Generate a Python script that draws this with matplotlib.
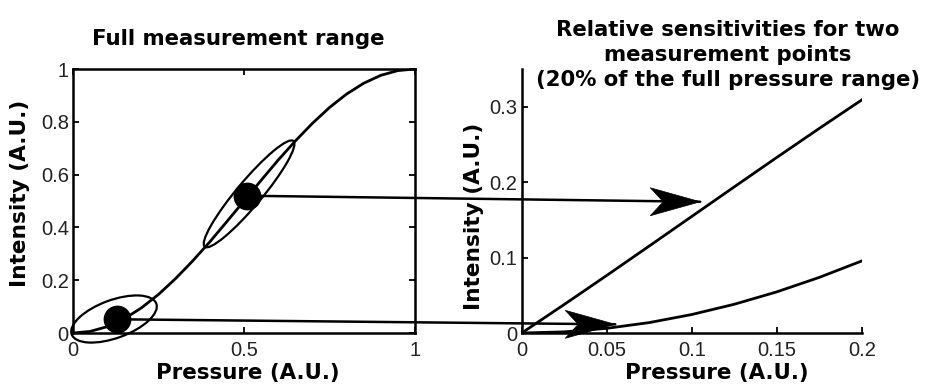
"""Pressure sensor response: full range and two 20% windows."""

import matplotlib

matplotlib.use("Agg")
import matplotlib.pyplot as plt
from matplotlib.patches import ConnectionPatch, Ellipse, Polygon
from matplotlib.transforms import ScaledTranslation

# full response curve
full_pressure = [0.0, 0.05, 0.1, 0.15, 0.2, 0.25, 0.3, 0.35, 0.4, 0.45, 0.5,
                 0.55, 0.6, 0.65, 0.7, 0.75, 0.8, 0.85, 0.9, 0.95, 1.0]
full_intensity = [0.0, 0.006, 0.024, 0.054, 0.095, 0.146, 0.206, 0.273, 0.345, 0.422, 0.5,
                  0.578, 0.655, 0.727, 0.794, 0.854, 0.905, 0.946, 0.976, 0.994, 1.0]

# two operating points on the full curve
point_pressure = [0.128, 0.508]
point_intensity = [0.052, 0.520]

# 20% windows, shifted to start at zero
window_pressure = [0.0, 0.025, 0.05, 0.075, 0.1, 0.125, 0.15, 0.175, 0.2]
window_low = [0.0, 0.0015, 0.0062, 0.0138, 0.0245, 0.0381, 0.0545, 0.0737, 0.0955]
window_mid = [0.0, 0.0378, 0.0763, 0.1153, 0.1545, 0.1937, 0.2327, 0.2712, 0.309]

# where each arrow lands in the zoomed panel
arrow_tip_pressure = [0.055, 0.105]
arrow_tip_intensity = [0.0115, 0.174]

full_xticks = [0, 0.5, 1]
full_yticks = [0, 0.2, 0.4, 0.6, 0.8, 1]
window_xticks = [0, 0.05, 0.1, 0.15, 0.2]
window_yticks = [0, 0.1, 0.2, 0.3]

TICK_FONT = "Liberation Sans"
LABEL_FONT = "DejaVu Sans"

fig = plt.figure(figsize=(9.26, 3.84), dpi=100)
ax1 = fig.add_axes([0.0788, 0.1328, 0.3693, 0.6875])
ax2 = fig.add_axes([0.5634, 0.1328, 0.3672, 0.6875])

ax1.plot(full_pressure, full_intensity, color="black", lw=2.0)
ax1.plot(point_pressure, point_intensity, "o", color="black", ms=19, zorder=5)
ax1.set_xlim(0, 1)
ax1.set_ylim(0, 1)
ax1.set_xticks(full_xticks, [f"{t:g}" for t in full_xticks])
ax1.set_yticks(full_yticks, [f"{t:g}" for t in full_yticks])
for side in ax1.spines.values():
    side.set_linewidth(1.8)

# ellipses sized in inches so they keep their shape on the stretched axes
ellipse_specs = [((0.12, 0.053), 0.90, 0.38, 20), ((0.515, 0.527), 1.38, 0.25, 50)]
for (cx, cy), w, h, ang in ellipse_specs:
    ell = Ellipse((0, 0), w, h, angle=ang, fill=False, lw=1.6, color="black",
                  transform=fig.dpi_scale_trans + ScaledTranslation(cx, cy, ax1.transData),
                  clip_on=False, zorder=4)
    ax1.add_patch(ell)

ax2.plot(window_pressure, window_mid, color="black", lw=2.0)
ax2.plot(window_pressure, window_low, color="black", lw=2.0)
ax2.set_xlim(0, 0.2)
ax2.set_ylim(0, 0.35)
ax2.set_xticks(window_xticks, [f"{t:g}" for t in window_xticks])
ax2.set_yticks(window_yticks, [f"{t:g}" for t in window_yticks])
ax2.spines["top"].set_visible(False)
ax2.spines["right"].set_visible(False)
for side in ("left", "bottom"):
    ax2.spines[side].set_linewidth(1.8)

for ax in (ax1, ax2):
    ax.tick_params(direction="in", length=4, width=1.3, labelsize=14.5)
    ax.tick_params(axis="x", pad=6)
    ax.tick_params(axis="y", pad=3)
    for lbl in ax.get_xticklabels() + ax.get_yticklabels():
        lbl.set_fontfamily(TICK_FONT)
        lbl.set_color("#222222")
    ax.set_xlabel("Pressure (A.U.)", fontsize=15.4, fontweight="bold", family=LABEL_FONT)
    ax.set_ylabel("Intensity (A.U.)", fontsize=15.6, fontweight="bold", family=LABEL_FONT)
ax1.tick_params(top=True, right=True)

ax1.xaxis.set_label_coords(0.51, -0.115)
ax1.yaxis.set_label_coords(-0.126, 0.53)
ax2.xaxis.set_label_coords(0.574, -0.115)
ax2.yaxis.set_label_coords(-0.112, 0.443)

ax1.text(0.482, 1.077, "Full measurement range", transform=ax1.transAxes,
         ha="center", va="bottom", fontsize=15.3, fontweight="bold", family=LABEL_FONT)
ax2.text(0.607, 0.92, "Relative sensitivities for two\nmeasurement points\n(20% of the full pressure range)",
         transform=ax2.transAxes, ha="center", va="bottom", multialignment="center",
         fontsize=15.3, fontweight="bold", family=LABEL_FONT, linespacing=1.33)

# arrows from each operating point to its zoomed window
head = [(0, 0), (-0.50, 0.14), (-0.37, 0), (-0.50, -0.14)]
for px, py, tx, ty in zip(point_pressure, point_intensity, arrow_tip_pressure, arrow_tip_intensity):
    con = ConnectionPatch(xyA=(px, py), coordsA=ax1.transData, xyB=(tx, ty), coordsB=ax2.transData,
                          color="black", lw=1.8, zorder=6)
    fig.add_artist(con)
    tip = Polygon(head, closed=True, facecolor="black", edgecolor="black", lw=0.5,
                  transform=fig.dpi_scale_trans + ScaledTranslation(tx, ty, ax2.transData), zorder=7)
    fig.add_artist(tip)

fig.savefig("out.png", dpi=100)
